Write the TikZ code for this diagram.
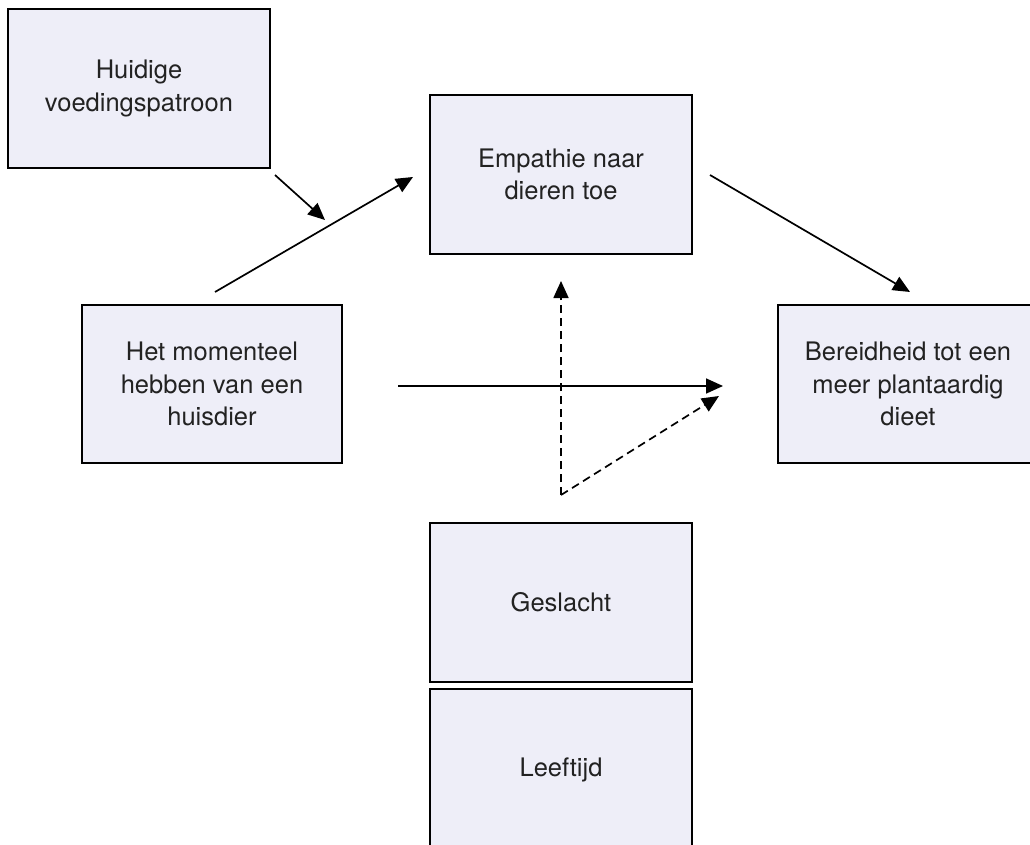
\documentclass[tikz,border=0pt]{standalone}
\usepackage{fontspec}
\setmainfont{TeX Gyre Heros}
\usetikzlibrary{arrows.meta}
\definecolor{boxfill}{HTML}{EEEEF8}
\definecolor{inktext}{HTML}{222222}
\begin{document}
\begin{tikzpicture}[x=1pt,y=-1pt,
  box/.style={draw=black, line width=1.8pt, fill=boxfill, rectangle,
    inner sep=0pt, align=center, text=inktext,
    font=\fontsize{25.5}{32.5}\selectfont},
  link/.style={line width=1.7pt, -{Triangle[length=17pt,width=15pt]}},
  dlink/.style={link, dash pattern=on 8pt off 5pt}]
  \useasboundingbox (0,0) rectangle (1030,845);
  \clip (0,0) rectangle (1030,845);

  % variables
  \node[box, minimum width=262pt, minimum height=159pt] (huidig) at (139,88.5) {Huidige\\voedingspatroon};
  \node[box, minimum width=262pt, minimum height=159pt] (empathie) at (561,174.5) {Empathie naar\\dieren toe};
  \node[box, minimum width=260pt, minimum height=158pt] (huisdier) at (212,384) {Het momenteel\\hebben van een\\huisdier};
  \node[box, minimum width=260pt, minimum height=158pt] (bereid) at (908,384) {Bereidheid tot een\\meer plantaardig\\dieet};
  \node[box, minimum width=262pt, minimum height=159pt] (geslacht) at (561,602.5) {Geslacht};
  \node[box, minimum width=262pt, minimum height=162pt] (leeftijd) at (561,770) {Leeftijd};

  % free ends of the paths
  \coordinate (h1) at (275,175);
  \coordinate (h2) at (325,220);
  \coordinate (a1) at (215,292);
  \coordinate (a2) at (413,177);
  \coordinate (b1) at (710,175);
  \coordinate (b2) at (910,292);
  \coordinate (c1) at (398,386);
  \coordinate (c2) at (723,386);
  \coordinate (m0) at (561,495);
  \coordinate (m1) at (561,281);
  \coordinate (m2) at (719,396);

  % paths
  \draw[link] (h1) -- (h2);
  \draw[link] (a1) -- (a2);
  \draw[link] (b1) -- (b2);
  \draw[link] (c1) -- (c2);
  \draw[dlink] (m0) -- (m1);
  \draw[dlink] (m0) -- (m2);
\end{tikzpicture}
\end{document}
